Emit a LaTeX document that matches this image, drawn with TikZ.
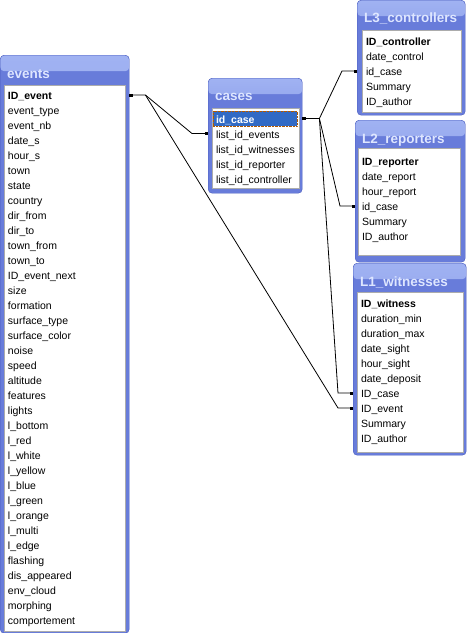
\documentclass[tikz,border=0pt]{standalone}
\usepackage{fontspec}
\setmainfont{Liberation Sans}
\usetikzlibrary{positioning, arrows.meta}

\definecolor{framebl}{RGB}{104,124,218}
\definecolor{framedk}{RGB}{74,92,190}
\definecolor{titletop}{RGB}{160,178,242}
\definecolor{titletxt}{RGB}{222,230,255}
\definecolor{selbl}{RGB}{49,106,197}

\begin{document}
\begin{tikzpicture}[
    x=1pt, y=-1pt,
    tframe/.style={draw=framedk, fill=framebl, rounded corners=4pt, anchor=north west, inner sep=0pt,
        path picture={\shade[top color=titletop, bottom color=framebl] (path picture bounding box.north west) rectangle ([yshift=-16pt]path picture bounding box.north east);}},
    ttitle/.style={anchor=base west, inner sep=0pt, text=titletxt, font=\fontsize{13.5}{15}\selectfont\bfseries},
    tlist/.style={draw=gray!65, fill=white, anchor=north west, inner sep=0pt, line width=1pt},
    row/.style={anchor=north west, inner xsep=3pt, inner ysep=0pt, outer sep=0pt, minimum height=15pt, text height=10pt, text depth=0.5pt, font=\fontsize{10.5}{12}\selectfont},
    key/.style={row, font=\fontsize{10.5}{12}\selectfont\bfseries},
    sel/.style={key, text width=78pt, fill=selbl, text=white, draw=orange!70!black, densely dotted},
    link/.style={draw=black, line width=0.8pt, {Square[length=3pt,width=3pt]}-{Square[length=3pt,width=3pt]}},
    halflink/.style={draw=black, line width=0.8pt, -{Square[length=3pt,width=3pt]}}
]
\useasboundingbox (0,0) rectangle (468,633);

% events
\node[tframe, minimum width=129pt, minimum height=578pt] (events) at (0,55) {};
\node[ttitle] (eventstitle) at ([xshift=7pt, yshift=-23pt]events.north west) {events};
\node[tlist, minimum width=121pt, minimum height=546pt] (eventslist) at (4,85) {};
\node[key] (ev1) at (5,87.5) {ID\_event};
\node[below=0pt of ev1.south west, row] (ev2) {event\_type};
\node[below=0pt of ev2.south west, row] (ev3) {event\_nb};
\node[below=0pt of ev3.south west, row] (ev4) {date\_s};
\node[below=0pt of ev4.south west, row] (ev5) {hour\_s};
\node[below=0pt of ev5.south west, row] (ev6) {town};
\node[below=0pt of ev6.south west, row] (ev7) {state};
\node[below=0pt of ev7.south west, row] (ev8) {country};
\node[below=0pt of ev8.south west, row] (ev9) {dir\_from};
\node[below=0pt of ev9.south west, row] (ev10) {dir\_to};
\node[below=0pt of ev10.south west, row] (ev11) {town\_from};
\node[below=0pt of ev11.south west, row] (ev12) {town\_to};
\node[below=0pt of ev12.south west, row] (ev13) {ID\_event\_next};
\node[below=0pt of ev13.south west, row] (ev14) {size};
\node[below=0pt of ev14.south west, row] (ev15) {formation};
\node[below=0pt of ev15.south west, row] (ev16) {surface\_type};
\node[below=0pt of ev16.south west, row] (ev17) {surface\_color};
\node[below=0pt of ev17.south west, row] (ev18) {noise};
\node[below=0pt of ev18.south west, row] (ev19) {speed};
\node[below=0pt of ev19.south west, row] (ev20) {altitude};
\node[below=0pt of ev20.south west, row] (ev21) {features};
\node[below=0pt of ev21.south west, row] (ev22) {lights};
\node[below=0pt of ev22.south west, row] (ev23) {l\_bottom};
\node[below=0pt of ev23.south west, row] (ev24) {l\_red};
\node[below=0pt of ev24.south west, row] (ev25) {l\_white};
\node[below=0pt of ev25.south west, row] (ev26) {l\_yellow};
\node[below=0pt of ev26.south west, row] (ev27) {l\_blue};
\node[below=0pt of ev27.south west, row] (ev28) {l\_green};
\node[below=0pt of ev28.south west, row] (ev29) {l\_orange};
\node[below=0pt of ev29.south west, row] (ev30) {l\_multi};
\node[below=0pt of ev30.south west, row] (ev31) {l\_edge};
\node[below=0pt of ev31.south west, row] (ev32) {flashing};
\node[below=0pt of ev32.south west, row] (ev33) {dis\_appeared};
\node[below=0pt of ev33.south west, row] (ev34) {env\_cloud};
\node[below=0pt of ev34.south west, row] (ev35) {morphing};
\node[below=0pt of ev35.south west, row] (ev36) {comportement};

% cases
\node[tframe, minimum width=94pt, minimum height=115pt] (cases) at (208,78) {};
\node[ttitle] (casestitle) at ([xshift=7pt, yshift=-22pt]cases.north west) {cases};
\node[tlist, minimum width=87pt, minimum height=80pt] (caseslist) at (212,108) {};
\node[sel] (cs1) at (213,111) {id\_case};
\node[below=0pt of cs1.south west, row] (cs2) {list\_id\_events};
\node[below=0pt of cs2.south west, row] (cs3) {list\_id\_witnesses};
\node[below=0pt of cs3.south west, row] (cs4) {list\_id\_reporter};
\node[below=0pt of cs4.south west, row] (cs5) {list\_id\_controller};

% L3_controllers
\node[tframe, minimum width=108pt, minimum height=115pt] (ctrl) at (357,0) {};
\node[ttitle] (ctrltitle) at ([xshift=7pt, yshift=-22pt]ctrl.north west) {L3\_controllers};
\node[tlist, minimum width=99pt, minimum height=82pt] (ctrllist) at (362,30) {};
\node[key] (ct1) at (363,33.5) {ID\_controller};
\node[below=0pt of ct1.south west, row] (ct2) {date\_control};
\node[below=0pt of ct2.south west, row] (ct3) {id\_case};
\node[below=0pt of ct3.south west, row] (ct4) {Summary};
\node[below=0pt of ct4.south west, row] (ct5) {ID\_author};

% L2_reporters
\node[tframe, minimum width=110pt, minimum height=142pt] (rep) at (355,120) {};
\node[ttitle] (reptitle) at ([xshift=7pt, yshift=-23pt]rep.north west) {L2\_reporters};
\node[tlist, minimum width=102pt, minimum height=107pt] (replist) at (358,148) {};
\node[key] (rp1) at (359,153.5) {ID\_reporter};
\node[below=0pt of rp1.south west, row] (rp2) {date\_report};
\node[below=0pt of rp2.south west, row] (rp3) {hour\_report};
\node[below=0pt of rp3.south west, row] (rp4) {id\_case};
\node[below=0pt of rp4.south west, row] (rp5) {Summary};
\node[below=0pt of rp5.south west, row] (rp6) {ID\_author};

% L1_witnesses
\node[tframe, minimum width=113pt, minimum height=192pt] (wit) at (353,263) {};
\node[ttitle] (wittitle) at ([xshift=7pt, yshift=-23pt]wit.north west) {L1\_witnesses};
\node[tlist, minimum width=106pt, minimum height=160pt] (witlist) at (357,292) {};
\node[key] (wt1) at (358,295.5) {ID\_witness};
\node[below=0pt of wt1.south west, row] (wt2) {duration\_min};
\node[below=0pt of wt2.south west, row] (wt3) {duration\_max};
\node[below=0pt of wt3.south west, row] (wt4) {date\_sight};
\node[below=0pt of wt4.south west, row] (wt5) {hour\_sight};
\node[below=0pt of wt5.south west, row] (wt6) {date\_deposit};
\node[below=0pt of wt6.south west, row] (wt7) {ID\_case};
\node[below=0pt of wt7.south west, row] (wt8) {ID\_event};
\node[below=0pt of wt8.south west, row] (wt9) {Summary};
\node[below=0pt of wt9.south west, row] (wt10) {ID\_author};

% relationships
\coordinate (evjoin) at ([xshift=16pt]events.east |- ev1);
\coordinate (csjoin) at ([xshift=17pt]cases.east |- cs1);
\draw[link] (events.east |- ev1) -- (evjoin) -- ([xshift=-16pt]cases.west |- cs2) -- (cases.west |- cs2);
\draw[halflink] (evjoin) -- ([xshift=-15pt]wit.west |- wt8) -- (wit.west |- wt8);
\draw[link] (cases.east |- cs1) -- (csjoin) -- ([xshift=-15pt]ctrl.west |- ct3) -- (ctrl.west |- ct3);
\draw[halflink] (csjoin) -- ([xshift=-15pt]rep.west |- rp4) -- (rep.west |- rp4);
\draw[halflink] (csjoin) -- ([xshift=-15pt]wit.west |- wt7) -- (wit.west |- wt7);

\end{tikzpicture}
\end{document}
